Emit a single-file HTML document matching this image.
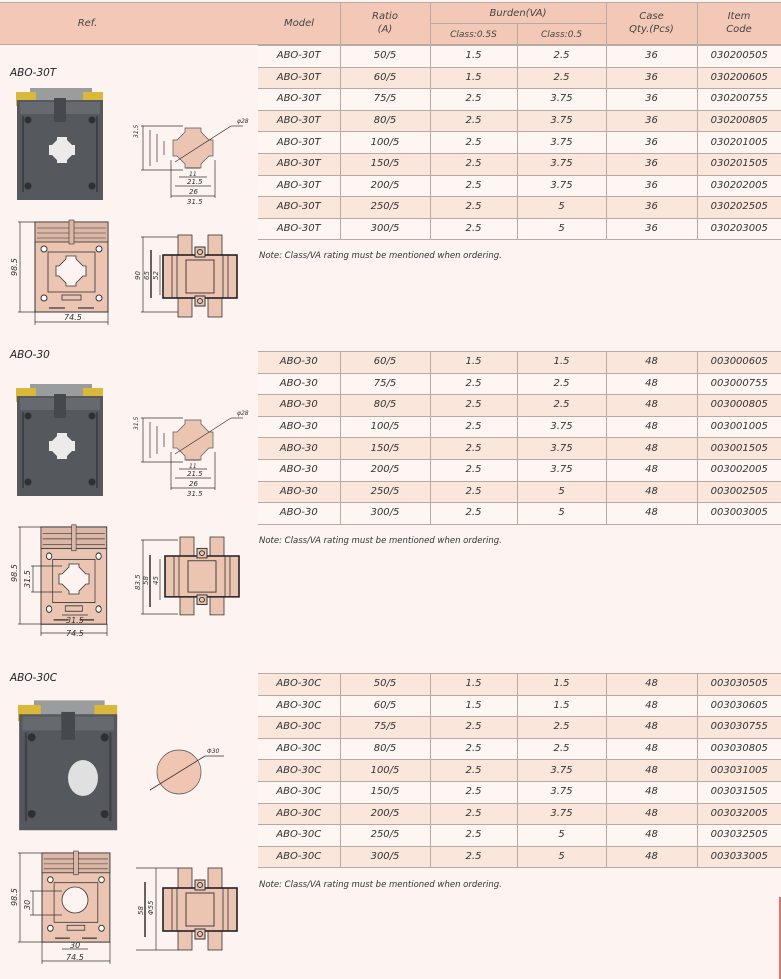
<!DOCTYPE html>
<html><head><meta charset="utf-8"><style>
*{margin:0;padding:0;box-sizing:border-box}
body{width:781px;height:979px;background:#fdf4f2;position:relative;overflow:hidden;font-family:"DejaVu Sans","Liberation Sans",sans-serif;font-style:italic;color:#333}
.hdr{position:absolute;left:0;top:2px;width:781px;height:43px;background:#f3c8b6;border-top:1px solid #b9a9a3;border-bottom:1px solid #b9a9a3}
.hdr div{position:absolute;font-size:10px;text-align:center;line-height:13px;color:#444}
.vl{position:absolute;width:1px;background:#b9a9a3}
table{position:absolute;left:258px;border-collapse:collapse;font-size:10px;color:#333}
td{height:21.6px;text-align:center;border:1px solid #b9a9a3;padding:0;line-height:20px}
td:first-child{border-left:none}td:last-child{border-right:none}
.s td{background:#fbe6dc}
.w td{background:#fdf6f3}
.note{position:absolute;left:259px;font-size:8.5px;color:#333}
.lbl{position:absolute;left:10px;font-size:10.5px;color:#222}
.tab{position:absolute;left:779px;top:897px;width:2px;height:82px;background:#d9786a}
</style></head><body>
<div class="hdr">
<div style="left:0;width:175px;top:14px">Ref.</div>
<div style="left:258px;width:82px;top:14px">Model</div>
<div style="left:340px;width:90px;top:7px">Ratio<br>(A)</div>
<div style="left:430px;width:176px;top:4px">Burden(VA)</div>
<div style="left:430px;width:87px;top:26px;font-size:9px">Class:0.5S</div>
<div style="left:517px;width:89px;top:26px;font-size:9px">Class:0.5</div>
<div style="left:606px;width:91px;top:7px">Case<br>Qty.(Pcs)</div>
<div style="left:697px;width:84px;top:7px">Item<br>Code</div>
<span class="vl" style="left:340px;top:0;height:42px"></span>
<span class="vl" style="left:430px;top:0;height:42px"></span>
<span class="vl" style="left:517px;top:20px;height:22px"></span>
<span class="vl" style="left:606px;top:0;height:42px"></span>
<span class="vl" style="left:697px;top:0;height:42px"></span>
<span style="position:absolute;left:430px;top:20px;width:176px;height:1px;background:#b9a9a3"></span>
</div>

<table style="top:45px;width:523px">
<colgroup><col style="width:82px"><col style="width:90px"><col style="width:87px"><col style="width:89px"><col style="width:91px"><col style="width:84px"></colgroup>
<tr class="w"><td>ABO-30T</td><td>50/5</td><td>1.5</td><td>2.5</td><td>36</td><td>030200505</td></tr>
<tr class="s"><td>ABO-30T</td><td>60/5</td><td>1.5</td><td>2.5</td><td>36</td><td>030200605</td></tr>
<tr class="w"><td>ABO-30T</td><td>75/5</td><td>2.5</td><td>3.75</td><td>36</td><td>030200755</td></tr>
<tr class="s"><td>ABO-30T</td><td>80/5</td><td>2.5</td><td>3.75</td><td>36</td><td>030200805</td></tr>
<tr class="w"><td>ABO-30T</td><td>100/5</td><td>2.5</td><td>3.75</td><td>36</td><td>030201005</td></tr>
<tr class="s"><td>ABO-30T</td><td>150/5</td><td>2.5</td><td>3.75</td><td>36</td><td>030201505</td></tr>
<tr class="w"><td>ABO-30T</td><td>200/5</td><td>2.5</td><td>3.75</td><td>36</td><td>030202005</td></tr>
<tr class="s"><td>ABO-30T</td><td>250/5</td><td>2.5</td><td>5</td><td>36</td><td>030202505</td></tr>
<tr class="w"><td>ABO-30T</td><td>300/5</td><td>2.5</td><td>5</td><td>36</td><td>030203005</td></tr>
</table>
<div class="note" style="top:251px">Note: Class/VA rating must be mentioned when ordering.</div>

<table style="top:351px;width:523px">
<colgroup><col style="width:82px"><col style="width:90px"><col style="width:87px"><col style="width:89px"><col style="width:91px"><col style="width:84px"></colgroup>
<tr class="s"><td>ABO-30</td><td>60/5</td><td>1.5</td><td>1.5</td><td>48</td><td>003000605</td></tr>
<tr class="w"><td>ABO-30</td><td>75/5</td><td>2.5</td><td>2.5</td><td>48</td><td>003000755</td></tr>
<tr class="s"><td>ABO-30</td><td>80/5</td><td>2.5</td><td>2.5</td><td>48</td><td>003000805</td></tr>
<tr class="w"><td>ABO-30</td><td>100/5</td><td>2.5</td><td>3.75</td><td>48</td><td>003001005</td></tr>
<tr class="s"><td>ABO-30</td><td>150/5</td><td>2.5</td><td>3.75</td><td>48</td><td>003001505</td></tr>
<tr class="w"><td>ABO-30</td><td>200/5</td><td>2.5</td><td>3.75</td><td>48</td><td>003002005</td></tr>
<tr class="s"><td>ABO-30</td><td>250/5</td><td>2.5</td><td>5</td><td>48</td><td>003002505</td></tr>
<tr class="w"><td>ABO-30</td><td>300/5</td><td>2.5</td><td>5</td><td>48</td><td>003003005</td></tr>
</table>
<div class="note" style="top:536px">Note: Class/VA rating must be mentioned when ordering.</div>

<table style="top:673px;width:523px">
<colgroup><col style="width:82px"><col style="width:90px"><col style="width:87px"><col style="width:89px"><col style="width:91px"><col style="width:84px"></colgroup>
<tr class="s"><td>ABO-30C</td><td>50/5</td><td>1.5</td><td>1.5</td><td>48</td><td>003030505</td></tr>
<tr class="w"><td>ABO-30C</td><td>60/5</td><td>1.5</td><td>1.5</td><td>48</td><td>003030605</td></tr>
<tr class="s"><td>ABO-30C</td><td>75/5</td><td>2.5</td><td>2.5</td><td>48</td><td>003030755</td></tr>
<tr class="w"><td>ABO-30C</td><td>80/5</td><td>2.5</td><td>2.5</td><td>48</td><td>003030805</td></tr>
<tr class="s"><td>ABO-30C</td><td>100/5</td><td>2.5</td><td>3.75</td><td>48</td><td>003031005</td></tr>
<tr class="w"><td>ABO-30C</td><td>150/5</td><td>2.5</td><td>3.75</td><td>48</td><td>003031505</td></tr>
<tr class="s"><td>ABO-30C</td><td>200/5</td><td>2.5</td><td>3.75</td><td>48</td><td>003032005</td></tr>
<tr class="w"><td>ABO-30C</td><td>250/5</td><td>2.5</td><td>5</td><td>48</td><td>003032505</td></tr>
<tr class="s"><td>ABO-30C</td><td>300/5</td><td>2.5</td><td>5</td><td>48</td><td>003033005</td></tr>
</table>
<div class="note" style="top:880px">Note: Class/VA rating must be mentioned when ordering.</div>

<div class="lbl" style="top:67px">ABO-30T</div>
<div class="lbl" style="top:349px">ABO-30</div>
<div class="lbl" style="top:672px">ABO-30C</div>
<div class="tab"></div>

<svg width="258" height="979" style="position:absolute;left:0;top:0" font-family="DejaVu Sans,sans-serif" font-style="italic" font-size="7" fill="#333">
<defs>
<g id="photo">
<rect x="14" y="2" width="62" height="14" fill="#9a9c9e"/>
<rect x="0" y="6" width="20" height="14" fill="#d9b83a"/>
<rect x="67" y="6" width="20" height="14" fill="#d9b83a"/>
<rect x="1" y="14" width="86" height="100" fill="#55595e"/>
<rect x="4" y="16" width="80" height="12" fill="#666a6f"/>
<rect x="38" y="12" width="12" height="24" fill="#45484c"/>
<circle cx="12" cy="34" r="3.5" fill="#2e3033"/><circle cx="76" cy="34" r="3.5" fill="#2e3033"/>
<circle cx="12" cy="100" r="3.5" fill="#2e3033"/><circle cx="76" cy="100" r="3.5" fill="#2e3033"/>
<rect x="6" y="30" width="2" height="76" fill="#3e4145"/><rect x="80" y="30" width="2" height="76" fill="#3e4145"/>
</g>
<g id="hole">
<path d="M-5,-13 H5 V-10 L10,-5 H13 V5 H10 L5,10 V13 H-5 V10 L-10,5 H-13 V-5 H-10 L-5,-10 Z" fill="#ecebea"/>
</g>
<g id="front">
<rect x="0" y="0" width="73" height="90" fill="#ebc4b2" stroke="#333" stroke-width="1"/>
<rect x="0" y="0" width="73" height="20" fill="#dcb7a6" stroke="#333" stroke-width="0.8"/>
<line x1="2" y1="6" x2="71" y2="6" stroke="#333" stroke-width="0.6"/>
<line x1="2" y1="11" x2="71" y2="11" stroke="#333" stroke-width="0.6"/>
<line x1="2" y1="16" x2="71" y2="16" stroke="#333" stroke-width="0.6"/>
<rect x="34" y="-2" width="5" height="24" fill="#dcb7a6" stroke="#333" stroke-width="0.6"/>
<rect x="13" y="30" width="47" height="40" fill="#ebc4b2" stroke="#333" stroke-width="0.8"/>
<circle cx="9" cy="27" r="3" fill="#fff" stroke="#333"/><circle cx="64" cy="27" r="3" fill="#fff" stroke="#333"/>
<circle cx="9" cy="76" r="3" fill="#fff" stroke="#333"/><circle cx="64" cy="76" r="3" fill="#fff" stroke="#333"/>
<rect x="27" y="73" width="19" height="5" fill="none" stroke="#333" stroke-width="0.8"/>
<line x1="14" y1="86" x2="30" y2="86" stroke="#333" stroke-width="1.2"/><line x1="43" y1="86" x2="59" y2="86" stroke="#333" stroke-width="1.2"/>
</g>
<g id="foct">
<path d="M-5,-15 H5 V-12 L12,-5 H15 V5 H12 L5,12 V15 H-5 V12 L-12,5 H-15 V-5 H-12 L-5,-12 Z" fill="#fdf4f2" stroke="#333" stroke-width="0.8"/>
</g>
<g id="side">
<rect x="18" y="0" width="14" height="22" fill="#ebc4b2" stroke="#333" stroke-width="0.8"/>
<rect x="48" y="0" width="14" height="22" fill="#ebc4b2" stroke="#333" stroke-width="0.8"/>
<rect x="18" y="61" width="14" height="21" fill="#ebc4b2" stroke="#333" stroke-width="0.8"/>
<rect x="48" y="61" width="14" height="21" fill="#ebc4b2" stroke="#333" stroke-width="0.8"/>
<rect x="3" y="20" width="74" height="43" fill="#ebc4b2" stroke="#222" stroke-width="1.6"/>
<line x1="12" y1="20" x2="12" y2="63" stroke="#333" stroke-width="0.8"/><line x1="17" y1="20" x2="17" y2="63" stroke="#333" stroke-width="0.8"/>
<line x1="63" y1="20" x2="63" y2="63" stroke="#333" stroke-width="0.8"/><line x1="68" y1="20" x2="68" y2="63" stroke="#333" stroke-width="0.8"/>
<rect x="26" y="25" width="28" height="33" fill="#ebc4b2" stroke="#333" stroke-width="0.9"/>
<rect x="35" y="12" width="10" height="10" fill="#ebc4b2" stroke="#333"/><circle cx="40" cy="17" r="2.5" fill="none" stroke="#333"/>
<rect x="35" y="61" width="10" height="10" fill="#ebc4b2" stroke="#333"/><circle cx="40" cy="66" r="2.5" fill="none" stroke="#333"/>
</g>
<g id="oct">
<path d="M-8,-20 H8 V-16 L16,-8 H20 V8 H16 L8,16 V20 H-8 V16 L-16,8 H-20 V-8 H-16 L-8,-16 Z" fill="#ebc4b2" stroke="#555" stroke-width="0.7"/>
</g>
<g id="dims" stroke="#333" stroke-width="0.7" fill="none">
<line x1="-52" y1="-22" x2="-10" y2="-22"/><line x1="-52" y1="22" x2="-10" y2="22"/>
<line x1="-50" y1="-22" x2="-50" y2="22"/><line x1="-43" y1="-18" x2="-43" y2="18"/><line x1="-36" y1="-14" x2="-36" y2="14"/><line x1="-29" y1="-7" x2="-29" y2="7"/>
<line x1="-22" y1="12" x2="-22" y2="50"/><line x1="22" y1="12" x2="22" y2="50"/>
<line x1="-22" y1="48" x2="22" y2="48"/><line x1="-18" y1="38" x2="18" y2="38"/><line x1="-14" y1="29" x2="14" y2="29"/><line x1="-7" y1="20" x2="7" y2="20"/>
<line x1="-18" y1="14" x2="38" y2="-22"/><line x1="38" y1="-22" x2="50" y2="-22"/>
</g>
</defs>

<!-- Section 1 -->
<use href="#photo" transform="translate(16,86)"/>
<use href="#hole" transform="translate(62,150)"/>
<g transform="translate(193,148)"><use href="#oct"/><use href="#dims"/>
<text x="44" y="-25" font-size="6">φ28</text>
<text x="-4" y="28" font-size="6">11</text><text x="-6" y="36">21.5</text><text x="-4" y="46">26</text><text x="-6" y="56">31.5</text></g>
<text transform="translate(138,138) rotate(-90)" font-size="6">31.5</text>
<use href="#front" transform="translate(35,222)"/>
<use href="#foct" transform="translate(71,271)"/>
<g stroke="#333" stroke-width="0.7"><line x1="18" y1="222" x2="35" y2="222"/><line x1="18" y1="312" x2="35" y2="312"/><line x1="20" y1="222" x2="20" y2="312"/>
<line x1="35" y1="312" x2="35" y2="325"/><line x1="108" y1="312" x2="108" y2="325"/><line x1="35" y1="322" x2="108" y2="322"/></g>
<text transform="translate(17,276) rotate(-90)" font-size="8">98.5</text>
<text x="64" y="320" font-size="8">74.5</text>
<use href="#side" transform="translate(160,235)"/>
<g stroke="#333" stroke-width="0.7"><line x1="143" y1="237" x2="143" y2="312"/><line x1="141" y1="237" x2="178" y2="237"/><line x1="141" y1="312" x2="178" y2="312"/>
<line x1="151" y1="250" x2="151" y2="298" stroke-width="1.5"/><line x1="160" y1="255" x2="160" y2="295"/></g>
<text transform="translate(140,280) rotate(-90)" font-size="7">90</text>
<text transform="translate(149,280) rotate(-90)" font-size="7">65</text>
<text transform="translate(158,280) rotate(-90)" font-size="7">52</text>

<!-- Section 2 -->
<use href="#photo" transform="translate(16,382)"/>
<use href="#hole" transform="translate(62,446)"/>
<g transform="translate(193,440)"><use href="#oct"/><use href="#dims"/>
<text x="44" y="-25" font-size="6">φ28</text>
<text x="-4" y="28" font-size="6">11</text><text x="-6" y="36">21.5</text><text x="-4" y="46">26</text><text x="-6" y="56">31.5</text></g>
<text transform="translate(138,430) rotate(-90)" font-size="6">31.5</text>
<use href="#front" transform="translate(41,527) scale(0.9,1.08)"/>
<use href="#foct" transform="translate(74,579)"/>
<g stroke="#333" stroke-width="0.7"><line x1="18" y1="527" x2="41" y2="527"/><line x1="18" y1="624" x2="41" y2="624"/><line x1="20" y1="527" x2="20" y2="624"/>
<line x1="41" y1="624" x2="41" y2="636"/><line x1="107" y1="624" x2="107" y2="636"/><line x1="41" y1="633" x2="107" y2="633"/>
<line x1="31" y1="566" x2="62" y2="566"/><line x1="31" y1="592" x2="62" y2="592"/><line x1="33" y1="566" x2="33" y2="592"/>
<line x1="62" y1="615" x2="88" y2="615"/></g>
<text transform="translate(17,582) rotate(-90)" font-size="8">98.5</text>
<text transform="translate(30,588) rotate(-90)" font-size="8">31.5</text>
<text x="66" y="623" font-size="8">31.5</text>
<text x="66" y="636" font-size="8">74.5</text>
<use href="#side" transform="translate(162,537) scale(1,0.95)"/>
<g stroke="#333" stroke-width="0.7"><line x1="143" y1="540" x2="143" y2="614"/><line x1="141" y1="540" x2="178" y2="540"/><line x1="141" y1="614" x2="178" y2="614"/>
<line x1="150" y1="555" x2="150" y2="607" stroke-width="1.5"/><line x1="160" y1="559" x2="160" y2="600"/></g>
<text transform="translate(140,590) rotate(-90)" font-size="7">83.5</text>
<text transform="translate(148,585) rotate(-90)" font-size="7">58</text>
<text transform="translate(158,585) rotate(-90)" font-size="7">45</text>

<!-- Section 3 -->
<use href="#photo" transform="translate(18,698) scale(1.14,1.16)"/>
<ellipse cx="83" cy="778" rx="15" ry="18" fill="#e0e0e0"/>
<circle cx="179" cy="772" r="22" fill="#f0c6b3" stroke="#555" stroke-width="0.7"/>
<g stroke="#333" stroke-width="0.8"><line x1="150" y1="790" x2="205" y2="756"/><line x1="205" y1="756" x2="224" y2="756"/></g>
<text x="207" y="753" font-size="6">Φ30</text>
<use href="#front" transform="translate(42,853) scale(0.93,0.99)"/>
<circle cx="75" cy="900" r="13" fill="#fdf4f2" stroke="#333" stroke-width="0.8"/>
<g stroke="#333" stroke-width="0.7"><line x1="18" y1="853" x2="42" y2="853"/><line x1="18" y1="942" x2="42" y2="942"/><line x1="20" y1="853" x2="20" y2="942"/>
<line x1="30" y1="891" x2="62" y2="891"/><line x1="30" y1="915" x2="62" y2="915"/><line x1="33" y1="891" x2="33" y2="915"/>
<line x1="42" y1="942" x2="42" y2="964"/><line x1="110" y1="942" x2="110" y2="964"/><line x1="42" y1="961" x2="110" y2="961"/>
<line x1="62" y1="949" x2="88" y2="949"/></g>
<text transform="translate(17,906) rotate(-90)" font-size="8">98.5</text>
<text transform="translate(30,910) rotate(-90)" font-size="8">30</text>
<text x="70" y="948" font-size="8">30</text>
<text x="66" y="960" font-size="8">74.5</text>
<use href="#side" transform="translate(160,868)"/>
<g stroke="#333" stroke-width="0.7"><line x1="136" y1="868" x2="178" y2="868"/><line x1="136" y1="950" x2="178" y2="950"/>
<line x1="145" y1="882" x2="145" y2="937" stroke-width="1.5"/><line x1="156" y1="868" x2="156" y2="950"/></g>
<text transform="translate(143,915) rotate(-90)" font-size="7">58</text>
<text transform="translate(153,915) rotate(-90)" font-size="7">Φ55</text>
</svg>
</body></html>
